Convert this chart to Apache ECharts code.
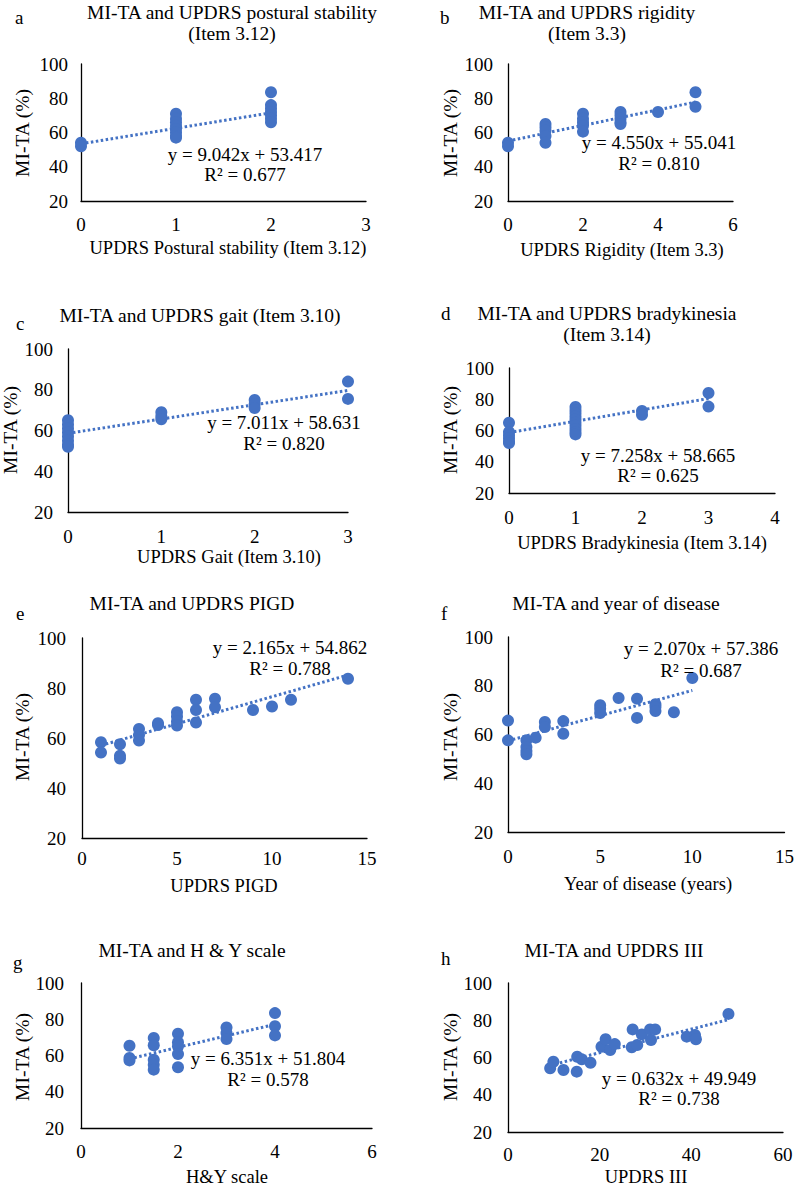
<!DOCTYPE html>
<html>
<head>
<meta charset="utf-8">
<script src="https://cdn.jsdelivr.net/npm/echarts@6/dist/echarts.min.js"></script>
<style>
html,body{margin:0;padding:0;background:#fff;}
#c{width:797px;height:1189px;}
</style>
</head>
<body>
<div id="c"></div>
<script>
// ---------- data ----------
const panelLetters = ['a','b','c','d','e','f','g','h'];
const titleLines = [
  ['MI-TA and UPDRS postural stability','(Item 3.12)'],
  ['MI-TA and UPDRS rigidity','(Item 3.3)'],
  ['MI-TA and UPDRS gait (Item 3.10)'],
  ['MI-TA and UPDRS bradykinesia','(Item 3.14)'],
  ['MI-TA and UPDRS PIGD'],
  ['MI-TA and year of disease'],
  ['MI-TA and H & Y scale'],
  ['MI-TA and UPDRS III']
];
const xAxisNames = ['UPDRS Postural stability (Item 3.12)','UPDRS Rigidity (Item 3.3)','UPDRS Gait (Item 3.10)',
  'UPDRS Bradykinesia (Item 3.14)','UPDRS PIGD','Year of disease (years)','H&Y scale','UPDRS III'];
const yAxisName = 'MI-TA (%)';
const xMax = [3,6,3,4,15,15,6,60];
const xStep = [1,2,1,1,5,5,2,20];
const yTicks = [20,40,60,80,100];
const slopes = [9.042,4.550,7.011,7.258,2.165,2.070,6.351,0.632];
const intercepts = [53.417,55.041,58.631,58.665,54.862,57.386,51.804,49.949];
const eqText = ['y = 9.042x + 53.417','y = 4.550x + 55.041','y = 7.011x + 58.631','y = 7.258x + 58.665',
  'y = 2.165x + 54.862','y = 2.070x + 57.386','y = 6.351x + 51.804','y = 0.632x + 49.949'];
const r2Text = ['R² = 0.677','R² = 0.810','R² = 0.820','R² = 0.625','R² = 0.788','R² = 0.687','R² = 0.578','R² = 0.738'];

const aX = [0,0,1,1,1,1,1,1,1,1,2,2,2,2,2,2,2];
const aY = [54,52,71,68,66,64,62,60,58,57,83.5,76,74,72,70,68,66];
const bX = [0,0,1,1,1,1,1,2,2,2,2,2,3,3,3,3,3,4,5,5];
const bY = [54,52,65,63,61,58,54,71,68,66,64,60.5,72,70,68,66,65,72,83.5,75];
const cX = [0,0,0,0,0,0,0,0,1,1,1,2,2,2,3,3];
const cY = [65,63,61,59,57,55,53,52,69,67,65.5,75,73,71,84,75.5];
const dX = [0,0,0,0,0,0,1,1,1,1,1,1,1,1,1,1,2,2,3,3];
const dY = [65,59,57,55,53,52,75,73,71,69,67,65,63,61,59,57.5,72.5,70,84,75.3];
const eX = [1,1,2,2,2,3,3,3,4,4,5,5,5,5,6,6,6,7,7,9,10,11,14];
const eY = [58.3,54.2,57.5,52.9,51.8,63.6,61.2,59,65.9,65.2,70.3,68.6,66.6,65,75.3,71.2,66.2,75.7,72.3,71.2,72.6,75.3,83.7];
const fX = [0,0,1,1,1,1,1.5,2,2,3,3,5,5,5,6,7,7,8,8,8,9,10];
const fY = [65.7,57.6,57.6,54.9,53.2,51.9,58.7,65.1,63.1,65.5,60.3,72,70.6,68.8,75,74.7,66.8,72.4,71.3,69.6,69.1,83.2];
const gX = [1,1,1,1.5,1.5,1.5,1.5,1.5,2,2,2,2,2,3,3,3,4,4,4];
const gY = [65.4,58.6,57.3,69.7,65.6,57.7,54.9,52.2,72,67.3,65.1,60.8,53.5,75.5,72.4,69.1,83.4,76.1,71.1];
const hX = [9.2,9.9,12.1,15,15.1,16.1,18,20.4,21.3,22.3,23.3,27.2,27,28.2,29.2,31,32.1,31.2,39,40.8,41,48.1];
const hY = [54.2,57.7,53.3,52.4,60.4,59,57.2,65.8,69.8,64,67.2,75.1,65.5,66.7,72.4,75.1,75.1,69.4,71.2,72.1,69.8,83.4];

const allX = [aX,bX,cX,dX,eX,fX,gX,hX];
const allY = [aY,bY,cY,dY,eY,fY,gY,hY];

// ---------- layout (pixels) ----------
const L = [
  {grid:[81,64,366,201],  letter:[15,17],  title:[232,12,33], yName:[22,133],  xName:[228,248],  eq:[245,154,174], lm:13, xm:14},
  {grid:[508,64,733,201], letter:[440,17], title:[587,12,33], yName:[450,133], xName:[622,250],  eq:[659,142,163], lm:15, xm:14},
  {grid:[68,349,348,512], letter:[16,323], title:[200,315],   yName:[10,430],  xName:[229,557],  eq:[284,422,443], lm:15, xm:15},
  {grid:[509,368,775,493],letter:[441,313],title:[607,313,334],yName:[450,430],xName:[642,543],  eq:[658,455,475], lm:15, xm:15},
  {grid:[82,638,367,838], letter:[16,613], title:[192,603],   yName:[22,737],  xName:[224,886],  eq:[290,647,668], lm:16, xm:11},
  {grid:[508,637,788,832],letter:[441,613],title:[616,603],   yName:[450,737], xName:[648,884],  eq:[701,648,670], lm:15, xm:15},
  {grid:[81,983,372,1128],letter:[13,962], title:[192,950],   yName:[22,1057], xName:[227,1177], eq:[268,1058,1079], lm:17, xm:14},
  {grid:[508,983,783,1132],letter:[441,958],title:[614,950],  yName:[450,1057],xName:[646,1177], eq:[679,1078,1098], lm:16, xm:13}
];

const FONT_FAMILY = 'Liberation Serif';
const TXT = '#000';
const BLUE = '#4472C4';

function txt(x,y,s,size,opt){
  opt = opt || {};
  return {type:'text', x:x, y:y, rotation:opt.rot||0, z:100,
    style:{text:s, fontFamily:FONT_FAMILY, fontSize:size, fill:TXT,
      textAlign:opt.align||'center', textVerticalAlign:'middle', align:opt.align||'center', verticalAlign:'middle'}};
}

const grids=[], xAxes=[], yAxes=[], series=[], graphics=[];
for(let i=0;i<8;i++){
  const g=L[i].grid;
  grids.push({left:g[0], top:g[1], width:g[2]-g[0], height:g[3]-g[1], containLabel:false});
  xAxes.push({type:'value', gridIndex:i, min:0, max:xMax[i], interval:xStep[i],
    axisLine:{show:true, onZero:false, lineStyle:{color:'#000', width:1.3}},
    axisTick:{show:false}, splitLine:{show:false},
    axisLabel:{color:TXT, fontFamily:FONT_FAMILY, fontSize:19, margin:L[i].xm, showMaxLabel:true, showMinLabel:true}});
  yAxes.push({type:'value', gridIndex:i, min:yTicks[0], max:yTicks[yTicks.length-1], interval:yTicks[1]-yTicks[0],
    axisLine:{show:true, onZero:false, lineStyle:{color:'#000', width:1.3}},
    axisTick:{show:false}, splitLine:{show:false},
    axisLabel:{color:TXT, fontFamily:FONT_FAMILY, fontSize:19, margin:L[i].lm}});
  const xs=allX[i], ys=allY[i];
  const pts = xs.map((x,k)=>[x, ys[k]]);
  const x0=Math.min.apply(null,xs), x1=Math.max.apply(null,xs);
  series.push({type:'line', xAxisIndex:i, yAxisIndex:i, showSymbol:false, silent:true, z:1,
    data:[[x0, slopes[i]*x0+intercepts[i]],[x1, slopes[i]*x1+intercepts[i]]],
    lineStyle:{color:BLUE, width:3, type:[2.5,2.5], cap:'butt'}});
  series.push({type:'scatter', xAxisIndex:i, yAxisIndex:i, symbol:'circle', symbolSize:12, z:2,
    data:pts, itemStyle:{color:BLUE, opacity:1}});
  const l=L[i];
  graphics.push(txt(l.letter[0], l.letter[1], panelLetters[i], 19, {align:'left'}));
  graphics.push(txt(l.title[0], l.title[1], titleLines[i][0], 19.5));
  if(titleLines[i].length>1) graphics.push(txt(l.title[0], l.title[2], titleLines[i][1], 19.5));
  graphics.push(txt(l.yName[0], l.yName[1], yAxisName, 19.5, {rot:Math.PI/2}));
  graphics.push(txt(l.xName[0], l.xName[1], xAxisNames[i], 18.5));
  graphics.push(txt(l.eq[0], l.eq[1], eqText[i], 19));
  graphics.push(txt(l.eq[0], l.eq[2], r2Text[i], 19));
}

const chart = echarts.init(document.getElementById('c'), null, {renderer:'svg'});
chart.setOption({
  animation:false,
  backgroundColor:'#fff',
  grid:grids, xAxis:xAxes, yAxis:yAxes, series:series,
  graphic:{elements:graphics}
});
</script>
</body>
</html>
